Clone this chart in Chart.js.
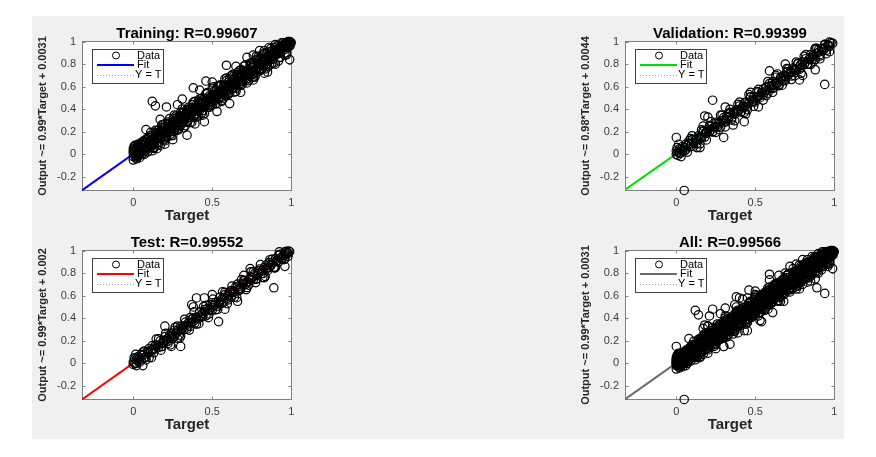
<!DOCTYPE html>
<html>
<head>
<meta charset="utf-8">
<script src="https://cdn.jsdelivr.net/npm/chart.js@4.4.1/dist/chart.umd.min.js"></script>
<style>
  html, body { margin: 0; padding: 0; background: #fff; }
  body { width: 876px; height: 457px; position: relative; overflow: hidden; }
  #fig { position: absolute; left: 32px; top: 16px; width: 812px; height: 423px; background: #f0f0f0; }
  canvas { position: absolute; }
</style>
</head>
<body>
<div id="fig"></div>
<canvas id="cTrain" width="290" height="209" style="left:32px;top:16px"></canvas>
<canvas id="cVal"   width="290" height="209" style="left:575px;top:16px"></canvas>
<canvas id="cTest"  width="290" height="209" style="left:32px;top:225px"></canvas>
<canvas id="cAll"   width="290" height="209" style="left:575px;top:225px"></canvas>
<script>
'use strict';
/* Regression plots – Training / Validation / Test / All */

const FONT = "'Liberation Sans', Arial, Helvetica, sans-serif";

// ── Axes ──
const axisMin = -0.325;
const axisMax = 1.005;
const xTicks  = [0, 0.5, 1];
const yTicks  = [-0.2, 0, 0.2, 0.4, 0.6, 0.8, 1];
const lineX   = [-0.325, 1.005];

// ── Fit lines (y at both ends of lineX) ──
const trainFitY = [-0.3186, 0.9981];
const valFitY   = [-0.3141, 0.9893];
const testFitY  = [-0.3198, 0.9970];
const allFitY   = [-0.3186, 0.9981];

// ── Data: [Target, Output] ──
const trainData = [
  [0,0.01],[0.01,-0.01],[0,0.03],[0.02,0],[0.01,0.04],[0.03,0.01],[0.02,0.05],[0.04,0.02],[0.03,-0.02],[0.05,0.06],
  [0,-0.02],[0.01,0.02],[0.02,0.03],[0.04,0.07],[0.05,0.02],[0.03,0.05],[0.06,0.04],[0.02,-0.01],[0.04,0],[0.06,0.08],
  [0.07,0.05],[0.05,0.09],[0.07,0.11],[0.08,0.06],[0.06,0.01],[0.08,0.1],[0.09,0.07],[0.09,0.13],[0.1,0.08],[0.01,0.06],
  [0.005,0.07],[0.015,-0.03],[0.025,0.08],[0.035,-0.01],[0.045,0.1],[0.055,0],[0.065,0.12],[0.075,0.03],[0.085,0.14],[0.095,0.05],
  [0,0.05],[0.01,0.08],[0.02,-0.04],[0.03,0.09],[0.04,-0.03],[0.06,0.11],[0.07,0],[0.08,0.13],[0.09,0.02],[0.1,0.15],
  [0.100,0.121],[0.105,0.077],[0.110,0.118],[0.115,0.152],[0.120,0.108],[0.125,0.084],[0.130,0.160],[0.135,0.137],[0.140,0.121],[0.145,0.191],
  [0.150,0.161],[0.155,0.103],[0.160,0.178],[0.165,0.159],[0.170,0.203],[0.175,0.144],[0.180,0.235],[0.185,0.161],[0.190,0.194],[0.195,0.236],
  [0.200,0.162],[0.205,0.219],[0.210,0.152],[0.215,0.242],[0.220,0.239],[0.225,0.216],[0.230,0.274],[0.235,0.200],[0.240,0.252],[0.245,0.223],
  [0.250,0.286],[0.255,0.208],[0.260,0.266],[0.265,0.290],[0.270,0.255],[0.275,0.325],[0.280,0.253],[0.285,0.286],[0.290,0.321],[0.295,0.252],
  [0.300,0.257],[0.305,0.336],[0.310,0.311],[0.315,0.288],[0.320,0.370],[0.325,0.310],[0.330,0.355],[0.335,0.341],[0.340,0.293],[0.345,0.381],
  [0.350,0.328],[0.355,0.367],[0.360,0.325],[0.365,0.409],[0.370,0.361],[0.375,0.394],[0.380,0.407],[0.385,0.327],[0.390,0.404],[0.395,0.357],
  [0.400,0.441],[0.405,0.409],[0.410,0.386],[0.415,0.470],[0.420,0.389],[0.425,0.458],[0.430,0.424],[0.435,0.453],[0.440,0.388],[0.445,0.456],
  [0.450,0.496],[0.455,0.436],[0.460,0.462],[0.465,0.495],[0.470,0.429],[0.475,0.463],[0.480,0.517],[0.485,0.493],[0.490,0.462],[0.495,0.516],
  [0.500,0.479],[0.505,0.533],[0.510,0.502],[0.515,0.478],[0.520,0.532],[0.525,0.566],[0.530,0.500],[0.535,0.533],[0.540,0.559],[0.545,0.499],
  [0.550,0.539],[0.555,0.607],[0.560,0.542],[0.565,0.571],[0.570,0.537],[0.575,0.606],[0.580,0.525],[0.585,0.609],[0.590,0.586],[0.595,0.554],
  [0.600,0.638],[0.605,0.591],[0.610,0.668],[0.615,0.588],[0.620,0.601],[0.625,0.634],[0.630,0.586],[0.635,0.670],[0.640,0.628],[0.645,0.667],
  [0.650,0.614],[0.655,0.702],[0.660,0.654],[0.665,0.640],[0.670,0.685],[0.675,0.625],[0.680,0.707],[0.685,0.684],[0.690,0.659],[0.695,0.738],
  [0.700,0.743],[0.705,0.674],[0.710,0.709],[0.715,0.742],[0.720,0.670],[0.725,0.740],[0.730,0.705],[0.735,0.729],[0.740,0.787],[0.745,0.709],
  [0.750,0.772],[0.755,0.743],[0.760,0.795],[0.765,0.721],[0.770,0.779],[0.775,0.756],[0.780,0.753],[0.785,0.843],[0.790,0.776],[0.795,0.833],
  [0.800,0.759],[0.805,0.801],[0.810,0.834],[0.815,0.760],[0.820,0.851],[0.825,0.792],[0.830,0.836],[0.835,0.817],[0.840,0.892],[0.845,0.834],
  [0.850,0.804],[0.855,0.874],[0.860,0.858],[0.865,0.835],[0.870,0.911],[0.875,0.887],[0.880,0.843],[0.885,0.877],[0.890,0.918],[0.895,0.874],
  [0.900,0.911],[0.905,0.891],[0.910,0.914],[0.915,0.933],[0.920,0.914],[0.925,0.905],[0.930,0.945],[0.935,0.936],[0.940,0.930],[0.945,0.968],
  [0.950,0.955],[0.955,0.929],[0.960,0.969],[0.965,0.962],[0.970,0.986],[0.975,0.960],[0.980,0.990],[0.985,0.973],[0.990,0.992],[0.995,0.995],
  [0.102,0.110],[0.117,0.104],[0.132,0.141],[0.147,0.133],[0.162,0.170],[0.177,0.168],[0.192,0.205],[0.207,0.196],[0.222,0.231],[0.237,0.226],
  [0.252,0.262],[0.267,0.258],[0.282,0.295],[0.297,0.288],[0.312,0.322],[0.327,0.318],[0.342,0.353],[0.357,0.345],[0.372,0.384],[0.387,0.378],
  [0.402,0.414],[0.417,0.405],[0.432,0.441],[0.447,0.437],[0.462,0.474],[0.477,0.466],[0.492,0.503],[0.507,0.497],[0.522,0.533],[0.537,0.526],
  [0.552,0.564],[0.567,0.556],[0.582,0.591],[0.597,0.588],[0.612,0.624],[0.627,0.615],[0.642,0.653],[0.657,0.646],[0.672,0.684],[0.687,0.675],
  [0.702,0.711],[0.717,0.708],[0.732,0.744],[0.747,0.735],[0.762,0.773],[0.777,0.767],[0.792,0.803],[0.807,0.795],[0.822,0.833],[0.837,0.826],
  [0.852,0.861],[0.867,0.858],[0.882,0.892],[0.897,0.886],[0.912,0.921],[0.927,0.918],[0.942,0.950],[0.957,0.951],[0.972,0.978],
  [0.103,0.165],[0.113,0.065],[0.123,0.138],[0.133,0.062],[0.143,0.182],[0.153,0.148],[0.163,0.217],[0.173,0.137],[0.183,0.210],[0.193,0.129],
  [0.203,0.274],[0.213,0.195],[0.223,0.267],[0.233,0.176],[0.243,0.252],[0.253,0.319],[0.263,0.221],[0.273,0.304],[0.283,0.214],[0.293,0.344],
  [0.303,0.278],[0.313,0.371],[0.323,0.312],[0.333,0.368],[0.343,0.282],[0.353,0.400],[0.363,0.330],[0.373,0.441],[0.383,0.331],[0.393,0.414],
  [0.403,0.358],[0.413,0.472],[0.423,0.421],[0.433,0.366],[0.443,0.484],[0.453,0.424],[0.463,0.537],[0.473,0.434],[0.483,0.496],[0.493,0.438],
  [0.503,0.441],[0.513,0.561],[0.523,0.508],[0.533,0.604],[0.543,0.504],[0.553,0.558],[0.563,0.509],[0.573,0.609],[0.583,0.556],[0.593,0.657],
  [0.603,0.532],[0.613,0.631],[0.623,0.579],[0.633,0.690],[0.643,0.634],[0.653,0.587],[0.663,0.705],[0.673,0.642],[0.683,0.752],[0.693,0.642],
  [0.703,0.728],[0.713,0.655],[0.723,0.734],[0.733,0.698],[0.743,0.804],[0.753,0.706],[0.763,0.796],[0.773,0.705],[0.783,0.835],[0.793,0.772],
  [0.803,0.848],[0.813,0.754],[0.823,0.825],[0.833,0.900],[0.843,0.802],[0.853,0.882],[0.863,0.789],[0.873,0.912],[0.883,0.870],[0.893,0.948],
  [0.903,0.934],[0.913,0.889],[0.923,0.931],[0.933,0.897],[0.943,0.963],[0.953,0.950],[0.963,0.990],[0.973,0.955],[0.983,0.997],[0.993,0.961],
  [0.11,0.195],[0.13,0.052],[0.15,0.212],[0.17,0.079],[0.19,0.264],[0.21,0.144],[0.23,0.318],[0.25,0.167],[0.27,0.340],[0.29,0.231],
  [0.31,0.402],[0.33,0.255],[0.35,0.418],[0.37,0.283],[0.39,0.470],[0.41,0.340],[0.43,0.494],[0.45,0.361],[0.47,0.547],[0.49,0.428],
  [0.51,0.600],[0.53,0.449],[0.55,0.616],[0.57,0.498],[0.59,0.676],[0.61,0.546],[0.63,0.709],[0.65,0.557],[0.67,0.741],[0.69,0.622],
  [0.71,0.793],[0.73,0.653],[0.75,0.810],[0.77,0.685],[0.79,0.865],[0.81,0.749],[0.83,0.919],[0.85,0.776],[0.87,0.937],[0.89,0.810],
  [0.91,0.960],[0.93,0.861],[0.95,0.990],[0.97,0.882],
  [0.12,0.032],[0.14,0.213],[0.16,0.091],[0.18,0.262],[0.20,0.120],[0.22,0.287],[0.24,0.166],[0.26,0.349],[0.28,0.219],[0.30,0.375],
  [0.32,0.235],[0.34,0.400],[0.36,0.283],[0.38,0.463],[0.40,0.332],[0.42,0.491],[0.44,0.347],[0.46,0.539],[0.48,0.416],[0.50,0.586],
  [0.52,0.448],[0.54,0.606],[0.56,0.479],[0.58,0.670],[0.60,0.538],[0.62,0.697],[0.64,0.551],[0.66,0.724],[0.68,0.610],[0.70,0.780],
  [0.72,0.633],[0.74,0.808],[0.76,0.685],[0.78,0.872],[0.80,0.741],[0.82,0.890],[0.84,0.757],[0.86,0.948],[0.88,0.814],[0.90,0.974],
  [0.92,0.829],[0.94,0.990],[0.96,0.882],
  [0.98,0.95],[0.97,0.99],[0.99,0.97],[1,0.99],[0.96,0.93],[0.98,1],[0.95,0.97],[0.99,1],
  [0.12,0.47],[0.14,0.43],[0.21,0.42],[0.34,0.17],[0.45,0.29],[0.99,0.84],[0,-0.05],[0.38,0.59],[0.46,0.65],[0.59,0.79],
  [0.76,0.88],[0.31,0.49],[0.28,0.44],[0.25,0.13],[0.2,0.09],[0.53,0.38],[0.61,0.45],[0.68,0.55],[0.72,0.86],[0.8,0.92],
  [0.85,0.73],[0.9,0.8],[0.93,0.86],[0.17,0.31],[0.08,0.22],[0.42,0.57],[0.5,0.64],[0.65,0.78],[0.56,0.47],[0.39,0.27],
  [0.15,0.05],[0.97,0.9],[0.76,0.66],[0.83,0.72]
];

const valData = [
  [0,0],[0.01,0.02],[0,0.03],[0.02,0.01],[0.01,-0.01],[0.03,0.04],[0.02,0.05],[0.04,0.03],[0.03,0.01],[0.05,0.06],
  [0.04,0.07],[0.06,0.04],[0.05,0.03],[0.07,0.08],[0.06,0.09],[0.005,0.06],[0.03,-0.02],[0.07,0.02],[0.08,0.12],[0.015,0.09],
  [0.08,0.098],[0.09,0.068],[0.10,0.131],[0.11,0.104],[0.12,0.132],[0.13,0.096],[0.14,0.165],[0.15,0.154],[0.16,0.145],[0.17,0.208],
  [0.18,0.153],[0.19,0.199],[0.20,0.221],[0.21,0.199],[0.22,0.248],[0.23,0.199],[0.24,0.242],[0.25,0.285],[0.26,0.241],[0.27,0.284],
  [0.28,0.242],[0.29,0.297],[0.30,0.326],[0.31,0.286],[0.32,0.336],[0.33,0.327],[0.34,0.373],[0.35,0.321],[0.36,0.371],[0.37,0.356],
  [0.38,0.394],[0.39,0.379],[0.40,0.429],[0.41,0.377],[0.42,0.423],[0.43,0.414],[0.44,0.464],[0.45,0.424],[0.46,0.453],[0.47,0.508],
  [0.48,0.466],[0.49,0.509],[0.50,0.465],[0.51,0.508],[0.52,0.551],[0.53,0.502],[0.54,0.551],[0.55,0.529],[0.56,0.551],[0.57,0.597],
  [0.58,0.542],[0.59,0.605],[0.60,0.596],[0.61,0.644],[0.62,0.595],[0.63,0.636],[0.64,0.628],[0.65,0.619],[0.66,0.682],[0.67,0.652],
  [0.68,0.698],[0.69,0.668],[0.70,0.731],[0.71,0.704],[0.72,0.732],[0.73,0.696],[0.74,0.765],[0.75,0.754],[0.76,0.745],[0.77,0.808],
  [0.78,0.753],[0.79,0.799],[0.80,0.821],[0.81,0.799],[0.82,0.848],[0.83,0.799],[0.84,0.842],[0.85,0.885],[0.86,0.841],[0.87,0.884],
  [0.88,0.842],[0.89,0.897],[0.90,0.926],[0.91,0.886],[0.92,0.936],[0.93,0.927],[0.94,0.973],[0.95,0.921],[0.96,0.971],[0.97,0.956],
  [0.98,0.99],
  [0.095,0.092],[0.125,0.128],[0.155,0.150],[0.185,0.190],[0.215,0.210],[0.245,0.249],[0.275,0.270],[0.305,0.309],[0.335,0.330],[0.365,0.369],
  [0.395,0.390],[0.425,0.429],[0.455,0.450],[0.485,0.489],[0.515,0.510],[0.545,0.549],[0.575,0.570],[0.605,0.609],[0.635,0.630],[0.665,0.669],
  [0.695,0.690],[0.725,0.729],[0.755,0.750],[0.785,0.789],[0.815,0.810],[0.845,0.849],[0.875,0.870],[0.905,0.909],[0.935,0.930],[0.965,0.962],
  [0.99,0.985],
  [0.09,0.140],[0.11,0.072],[0.13,0.142],[0.15,0.093],[0.17,0.201],[0.19,0.186],[0.21,0.253],[0.23,0.201],[0.25,0.272],[0.27,0.219],
  [0.29,0.347],[0.31,0.296],[0.33,0.365],[0.35,0.304],[0.37,0.377],[0.39,0.443],[0.41,0.376],[0.43,0.455],[0.45,0.395],[0.47,0.511],
  [0.49,0.470],[0.51,0.556],[0.53,0.521],[0.55,0.578],[0.57,0.521],[0.59,0.628],[0.61,0.584],[0.63,0.684],[0.65,0.608],[0.67,0.687],
  [0.69,0.654],[0.71,0.757],[0.73,0.728],[0.75,0.696],[0.77,0.803],[0.79,0.767],[0.81,0.869],[0.83,0.799],[0.85,0.860],[0.87,0.826],
  [0.89,0.940],[0.91,0.872],[0.93,0.942],[0.95,0.893],[0.97,0.995],
  [0.10,0.165],[0.13,0.060],[0.16,0.218],[0.19,0.128],[0.22,0.291],[0.25,0.195],[0.28,0.348],[0.31,0.244],[0.34,0.400],[0.37,0.298],
  [0.40,0.463],[0.43,0.372],[0.46,0.530],[0.49,0.426],[0.52,0.576],[0.55,0.481],[0.58,0.646],[0.61,0.550],[0.64,0.713],[0.67,0.613],
  [0.70,0.761],[0.73,0.663],[0.76,0.819],[0.79,0.719],[0.82,0.884],[0.85,0.796],[0.88,0.930],[0.91,0.847],[0.94,0.975],[0.97,0.910],
  [0,0.15],[0.05,-0.32],[0.23,0.48],[0.94,0.62],[0.43,0.29],[0.59,0.74],[0.78,0.66],[0.80,0.70],[0.31,0.42],[0.18,0.34],
  [0.17,0.25],[0.15,0.06],[0.30,0.15],[0.69,0.80],[0.20,0.33],[0.47,0.55],[0.52,0.42],[0.88,0.75],[0.88,0.94],[0.63,0.70],
  [0.36,0.26],[0.44,0.36]
];

const testData = [
  [0,0.01],[0.01,0],[0,-0.01],[0.02,0.03],[0.01,0.04],[0.03,0.02],[0.02,0],[0.04,0.05],[0.03,0.06],[0.05,0.03],
  [0.04,0.01],[0.06,0.07],[0.05,0.08],[0.07,0.05],[0.06,0.1],[0.005,0.05],[0.02,-0.02],[0.08,0.03],[0.07,0.11],[0.015,0.08],
  [0.08,0.055],[0.09,0.107],[0.10,0.132],[0.11,0.101],[0.12,0.124],[0.13,0.094],[0.14,0.162],[0.15,0.163],[0.16,0.142],[0.17,0.199],
  [0.18,0.149],[0.19,0.198],[0.20,0.237],[0.21,0.197],[0.22,0.196],[0.23,0.249],[0.24,0.241],[0.25,0.222],[0.26,0.294],[0.27,0.264],
  [0.28,0.295],[0.29,0.251],[0.30,0.326],[0.31,0.313],[0.32,0.299],[0.33,0.366],[0.34,0.324],[0.35,0.360],[0.36,0.327],[0.37,0.393],
  [0.38,0.403],[0.39,0.357],[0.40,0.410],[0.41,0.394],[0.42,0.456],[0.43,0.409],[0.44,0.443],[0.45,0.476],[0.46,0.421],[0.47,0.485],
  [0.48,0.474],[0.49,0.524],[0.50,0.472],[0.51,0.511],[0.52,0.539],[0.53,0.506],[0.54,0.527],[0.55,0.587],[0.56,0.568],[0.57,0.539],
  [0.58,0.609],[0.59,0.572],[0.60,0.613],[0.61,0.632],[0.62,0.584],[0.63,0.634],[0.64,0.631],[0.65,0.682],[0.66,0.677],[0.67,0.645],
  [0.68,0.655],[0.69,0.707],[0.70,0.732],[0.71,0.701],[0.72,0.724],[0.73,0.694],[0.74,0.762],[0.75,0.763],[0.76,0.742],[0.77,0.799],
  [0.78,0.749],[0.79,0.798],[0.80,0.837],[0.81,0.797],[0.82,0.796],[0.83,0.849],[0.84,0.841],[0.85,0.822],[0.86,0.894],[0.87,0.864],
  [0.88,0.895],[0.89,0.851],[0.90,0.926],[0.91,0.913],[0.92,0.899],[0.93,0.966],[0.94,0.924],[0.95,0.960],[0.96,0.927],[0.97,0.993],
  [0.98,0.975],[0.99,0.99],[0.975,0.985],
  [0.095,0.098],[0.125,0.121],[0.155,0.158],[0.185,0.181],[0.215,0.218],[0.245,0.241],[0.275,0.278],[0.305,0.301],[0.335,0.338],[0.365,0.361],
  [0.395,0.398],[0.425,0.421],[0.455,0.458],[0.485,0.481],[0.515,0.518],[0.545,0.541],[0.575,0.578],[0.605,0.601],[0.635,0.638],[0.665,0.661],
  [0.695,0.698],[0.725,0.721],[0.755,0.758],[0.785,0.781],[0.815,0.818],[0.845,0.841],[0.875,0.878],[0.905,0.901],[0.935,0.938],[0.965,0.961],
  [0.10,0.050],[0.12,0.158],[0.14,0.128],[0.16,0.217],[0.18,0.149],[0.20,0.204],[0.22,0.177],[0.24,0.269],[0.26,0.238],[0.28,0.331],
  [0.30,0.243],[0.32,0.334],[0.34,0.305],[0.36,0.406],[0.38,0.373],[0.40,0.347],[0.42,0.454],[0.44,0.415],[0.46,0.515],[0.48,0.439],
  [0.50,0.520],[0.52,0.474],[0.54,0.549],[0.56,0.532],[0.58,0.629],[0.60,0.562],[0.62,0.646],[0.64,0.586],[0.66,0.702],[0.68,0.663],
  [0.70,0.736],[0.72,0.673],[0.74,0.742],[0.76,0.814],[0.78,0.747],[0.80,0.823],[0.82,0.761],[0.84,0.871],[0.86,0.850],[0.88,0.924],
  [0.90,0.850],[0.92,0.958],[0.94,0.928],[0.96,0.990],[0.98,0.949],
  [0.115,0.050],[0.145,0.215],[0.175,0.117],[0.205,0.267],[0.235,0.164],[0.265,0.320],[0.295,0.227],[0.325,0.391],[0.355,0.295],[0.385,0.457],
  [0.415,0.352],[0.445,0.503],[0.475,0.405],[0.505,0.569],[0.535,0.479],[0.565,0.634],[0.595,0.529],[0.625,0.685],[0.655,0.582],[0.685,0.742],
  [0.715,0.654],[0.745,0.812],[0.775,0.716],[0.805,0.876],[0.835,0.771],[0.865,0.919],[0.895,0.845],[0.925,0.988],[0.955,0.920],[0.985,0.995],
  [0.89,0.67],[0.06,-0.02],[0.30,0.15],[0.20,0.33],[0.37,0.52],[0.38,0.50],[0.40,0.58],[0.54,0.37],[0.66,0.55],[0.74,0.84],
  [0.96,0.86],[0.50,0.61],[0.24,0.15],[0.45,0.58],[0.58,0.48],[0.70,0.78],[0.28,0.22],[0.83,0.76]
];

const allData = [...trainData, ...valData, ...testData];

// ── Panels ──
const panels = [
  { id: 'cTrain', title: 'Training: R=0.99607',   yLabel: 'Output ~= 0.99*Target + 0.0031', color: '#0000ff', data: trainData, fitY: trainFitY },
  { id: 'cVal',   title: 'Validation: R=0.99399', yLabel: 'Output ~= 0.98*Target + 0.0044', color: '#00e000', data: valData,   fitY: valFitY },
  { id: 'cTest',  title: 'Test: R=0.99552',       yLabel: 'Output ~= 0.99*Target + 0.002',  color: '#ff0000', data: testData,  fitY: testFitY },
  { id: 'cAll',   title: 'All: R=0.99566',        yLabel: 'Output ~= 0.99*Target + 0.0031', color: '#6b6b6b', data: allData,   fitY: allFitY },
];

// white axes background + box + inward tick marks
const axesBox = {
  id: 'axesBox',
  beforeDatasetsDraw(chart) {
    const { ctx, chartArea: a, scales } = chart;
    ctx.save();
    ctx.fillStyle = '#fff';
    ctx.fillRect(a.left, a.top, a.right - a.left, a.bottom - a.top);
    ctx.strokeStyle = '#808080';
    ctx.lineWidth = 1;
    const L = Math.round(a.left) + 0.5, R = Math.round(a.right) - 0.5;
    const T = Math.round(a.top) + 0.5,  B = Math.round(a.bottom) - 0.5;
    ctx.strokeRect(L, T, R - L, B - T);
    ctx.beginPath();
    xTicks.forEach(v => {
      const px = Math.round(scales.x.getPixelForValue(v)) + 0.5;
      ctx.moveTo(px, B); ctx.lineTo(px, B - 3);
      ctx.moveTo(px, T); ctx.lineTo(px, T + 3);
    });
    yTicks.forEach(v => {
      const py = Math.round(scales.y.getPixelForValue(v)) + 0.5;
      ctx.moveTo(L, py); ctx.lineTo(L + 3, py);
      ctx.moveTo(R, py); ctx.lineTo(R - 3, py);
    });
    ctx.stroke();
    ctx.restore();
  }
};

// MATLAB style legend box in the upper left corner
const boxLegend = {
  id: 'boxLegend',
  afterDraw(chart) {
    const { ctx, chartArea: a } = chart;
    const ds = chart.data.datasets;
    const x0 = Math.round(a.left) + 10, y0 = Math.round(a.top) + 8, w = 71, h = 34;
    ctx.save();
    ctx.fillStyle = '#fff';
    ctx.fillRect(x0, y0, w, h);
    ctx.strokeStyle = '#404040';
    ctx.lineWidth = 1;
    ctx.strokeRect(x0 + 0.5, y0 + 0.5, w, h);

    // Data
    ctx.beginPath();
    ctx.arc(x0 + 24, y0 + 6.5, 3.5, 0, Math.PI * 2);
    ctx.strokeStyle = '#000';
    ctx.stroke();
    // Fit
    ctx.beginPath();
    ctx.moveTo(x0 + 5, y0 + 16); ctx.lineTo(x0 + 42, y0 + 16);
    ctx.strokeStyle = ds[1].borderColor; ctx.lineWidth = 2;
    ctx.stroke();
    // Y = T
    ctx.beginPath();
    ctx.setLineDash([1, 2]);
    ctx.moveTo(x0 + 5, y0 + 26.5); ctx.lineTo(x0 + 42, y0 + 26.5);
    ctx.strokeStyle = '#999'; ctx.lineWidth = 1;
    ctx.stroke();
    ctx.setLineDash([]);

    ctx.fillStyle = '#000';
    ctx.font = '11px ' + FONT;
    ctx.textBaseline = 'middle';
    ctx.fillText(ds[0].label, x0 + 45, y0 + 6.5);
    ctx.fillText(ds[1].label, x0 + 45, y0 + 16);
    ctx.fillText(ds[2].label, x0 + 43, y0 + 26);
    ctx.restore();
  }
};

function makePanel(p) {
  new Chart(document.getElementById(p.id), {
    type: 'scatter',
    data: {
      datasets: [
        {
          label: 'Data',
          data: p.data.map(([x, y]) => ({ x, y })),
          showLine: false,
          pointStyle: 'circle',
          pointRadius: 4.2,
          borderWidth: 1.2,
          borderColor: '#000',
          backgroundColor: 'rgba(0,0,0,0)',
          clip: false,
        },
        {
          label: 'Fit',
          data: lineX.map((x, i) => ({ x, y: p.fitY[i] })),
          showLine: true,
          pointRadius: 0,
          borderColor: p.color,
          borderWidth: 2,
        },
        {
          label: 'Y = T',
          data: lineX.map(x => ({ x, y: x })),
          showLine: true,
          pointRadius: 0,
          borderColor: '#9a9a9a',
          borderWidth: 1,
          borderDash: [1, 2],
        },
      ],
    },
    options: {
      responsive: false,
      devicePixelRatio: 1,
      animation: false,
      events: [],
      layout: { padding: { left: 0, right: 30, top: 0, bottom: 0 } },
      plugins: {
        legend: { display: false },
        tooltip: { enabled: false },
        title: {
          display: true,
          text: p.title,
          fullSize: false,
          color: '#000',
          font: { family: FONT, size: 15, weight: 'bold', lineHeight: 1 },
          padding: { top: 10, bottom: 0 },
        },
      },
      scales: {
        x: {
          type: 'linear',
          min: axisMin, max: axisMax,
          afterBuildTicks: s => { s.ticks = xTicks.map(v => ({ value: v })); },
          afterFit: s => { s.height = 34; },
          grid: { display: false, drawTicks: false },
          border: { display: false },
          ticks: { color: '#3c3c3c', padding: 5, maxRotation: 0, font: { family: FONT, size: 11 }, callback: v => String(v) },
          title: { display: true, text: 'Target', color: '#262626', font: { family: FONT, size: 15, weight: 'bold', lineHeight: 1.2 }, padding: { top: 0, bottom: 0 } },
        },
        y: {
          type: 'linear',
          min: axisMin, max: axisMax,
          afterBuildTicks: s => { s.ticks = yTicks.map(v => ({ value: v })); },
          afterFit: s => { s.width = 50; },
          grid: { display: false, drawTicks: false },
          border: { display: false },
          ticks: { color: '#3c3c3c', padding: 6, font: { family: FONT, size: 11 }, callback: v => String(v) },
          title: { display: true, text: p.yLabel, color: '#262626', font: { family: FONT, size: 11, weight: 'bold', lineHeight: 1.2 }, padding: { top: 4, bottom: 0 } },
        },
      },
    },
    plugins: [axesBox, boxLegend],
  });
}

panels.forEach(makePanel);
</script>
</body>
</html>
